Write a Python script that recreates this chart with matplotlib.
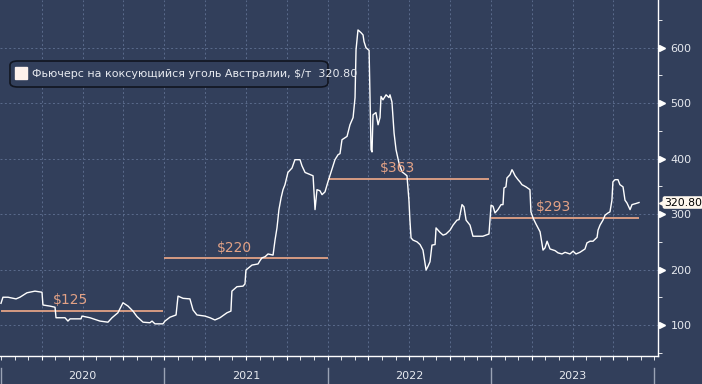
import numpy as np
import matplotlib.pyplot as plt
from matplotlib.patches import FancyBboxPatch
import matplotlib.transforms as mtransforms

plt.rcParams['font.family'] = ['DejaVu Sans']

# даты в долях года и цена, $/т
t = [2020.000, 2020.012, 2020.043, 2020.092, 2020.116, 2020.159, 2020.208, 2020.251, 2020.257, 2020.300,
     2020.331, 2020.337, 2020.392, 2020.410, 2020.423, 2020.490, 2020.496, 2020.545, 2020.606, 2020.655,
     2020.680, 2020.716, 2020.747, 2020.778, 2020.808, 2020.833, 2020.870, 2020.912, 2020.925, 2020.943,
     2020.992, 2021.004, 2021.035, 2021.072, 2021.084, 2021.115, 2021.157, 2021.176, 2021.200, 2021.249,
     2021.280, 2021.310, 2021.341, 2021.384, 2021.408, 2021.414, 2021.445, 2021.482, 2021.494, 2021.500,
     2021.537, 2021.574, 2021.586, 2021.598, 2021.617, 2021.635, 2021.666, 2021.678, 2021.690, 2021.702,
     2021.715, 2021.727, 2021.739, 2021.757, 2021.782, 2021.800, 2021.831, 2021.843, 2021.862, 2021.911,
     2021.923, 2021.935, 2021.953, 2021.966, 2021.984, 2022.002, 2022.015, 2022.045, 2022.064, 2022.076,
     2022.088, 2022.119, 2022.137, 2022.156, 2022.168, 2022.174, 2022.186, 2022.205, 2022.217, 2022.223,
     2022.235, 2022.254, 2022.260, 2022.266, 2022.272, 2022.278, 2022.296, 2022.309, 2022.321, 2022.327,
     2022.339, 2022.358, 2022.376, 2022.382, 2022.394, 2022.407, 2022.419, 2022.431, 2022.437, 2022.456,
     2022.474, 2022.486, 2022.498, 2022.504, 2022.511, 2022.523, 2022.547, 2022.566, 2022.584, 2022.603,
     2022.615, 2022.627, 2022.639, 2022.658, 2022.664, 2022.688, 2022.707, 2022.725, 2022.750, 2022.768,
     2022.792, 2022.805, 2022.823, 2022.835, 2022.848, 2022.872, 2022.890, 2022.915, 2022.951, 2022.988,
     2023.001, 2023.013, 2023.025, 2023.043, 2023.062, 2023.074, 2023.080, 2023.092, 2023.098, 2023.117,
     2023.129, 2023.135, 2023.148, 2023.166, 2023.178, 2023.190, 2023.215, 2023.239, 2023.245, 2023.258,
     2023.276, 2023.301, 2023.319, 2023.331, 2023.344, 2023.362, 2023.393, 2023.411, 2023.435, 2023.454,
     2023.484, 2023.503, 2023.521, 2023.545, 2023.576, 2023.588, 2023.607, 2023.625, 2023.650, 2023.656,
     2023.668, 2023.686, 2023.699, 2023.717, 2023.729, 2023.741, 2023.747, 2023.760, 2023.778, 2023.790,
     2023.809, 2023.821, 2023.833, 2023.852, 2023.864, 2023.888, 2023.907]
price = [139, 150, 150, 147, 150, 158, 161, 159, 136, 134,
         132, 113, 113, 107, 111, 111, 116, 113, 107, 105,
         113, 122, 140, 134, 125, 115, 105, 104, 107, 102,
         102, 107, 114, 118, 152, 148, 147, 127, 118, 116,
         113, 109, 113, 122, 125, 161, 169, 170, 174, 199,
         208, 210, 216, 221, 223, 228, 226, 253, 275, 308,
         329, 344, 353, 375, 383, 398, 398, 387, 375, 369,
         308, 344, 342, 335, 340, 358, 370, 398, 407, 409,
         434, 440, 461, 474, 510, 596, 632, 627, 623, 611,
         600, 595, 506, 416, 412, 479, 483, 461, 474, 512,
         506, 515, 510, 515, 502, 446, 416, 400, 392, 376,
         372, 369, 325, 289, 257, 253, 250, 245, 235, 199,
         206, 214, 244, 245, 275, 267, 262, 264, 271, 280,
         289, 290, 317, 313, 289, 280, 260, 260, 260, 264,
         316, 314, 302, 308, 317, 317, 347, 349, 365, 371,
         380, 377, 369, 362, 358, 353, 349, 344, 304, 293,
         282, 268, 235, 239, 251, 237, 234, 230, 228, 231,
         228, 233, 228, 231, 237, 248, 251, 251, 258, 271,
         280, 289, 298, 302, 304, 325, 358, 362, 362, 353,
         349, 325, 320, 308, 317, 319, 320.8]

years = [2020, 2021, 2022, 2023]
avg_price = [125, 220, 363, 293]
avg_end = [2020.99, 2022.0, 2022.99, 2023.907]
last_value = 320.80

bg = '#323f5b'
grid_c = '#5b6b8c'
avg_c = '#e3a286'
txt_c = '#e6e9ef'

fig = plt.figure(figsize=(7.02, 3.84), dpi=100, facecolor=bg)
ax = fig.add_axes([0, 0.0729, 0.9373, 0.9271], facecolor=bg)

ax.plot(t, price, color='white', lw=1.0, zorder=3)

for y0, a, e in zip(years, avg_price, avg_end):
    ax.hlines(a, y0, e, color=avg_c, lw=1.3, zorder=2)
    ax.text((y0 + e) / 2 - 0.07, a + 7, f'${a}', color=avg_c, fontsize=10,
            ha='center', va='bottom', zorder=4)

ax.set_xlim(2019.994, 2024.023)
ax.set_ylim(44, 686)

# сетка
quarters = np.arange(2020.25, 2024.0, 0.25)
ax.set_xticks(quarters, minor=False)
ax.set_xticks(np.arange(2020, 2024.01, 1 / 12), minor=True)
ax.xaxis.grid(True, which='major', color=grid_c, ls=(0, (2, 2.5)), lw=0.7)
ax.set_yticks(np.arange(100, 601, 100))
ax.set_yticks(np.arange(50, 651, 50), minor=True)
ax.yaxis.grid(True, which='major', color=grid_c, ls=(0, (2, 2.5)), lw=0.7)
ax.set_axisbelow(True)

for s in ['top', 'left']:
    ax.spines[s].set_visible(False)
for s in ['bottom', 'right']:
    ax.spines[s].set_color('white')
    ax.spines[s].set_linewidth(1.0)

ax.tick_params(axis='x', which='both', direction='out', length=3, color='white',
               labelbottom=False)
ax.yaxis.tick_right()
ax.tick_params(axis='y', which='minor', direction='out', length=3, color='white')
ax.tick_params(axis='y', which='major', length=0, pad=9, labelsize=8,
               labelcolor=txt_c)

# треугольники у делений
tr = mtransforms.blended_transform_factory(ax.transAxes, ax.transData)
ax.plot([1.006] * 6, np.arange(100, 601, 100), marker='>', ms=5, color='white',
        ls='none', transform=tr, clip_on=False)

# годы внизу
for y0 in years:
    ax.text(y0 + 0.5, -0.055, str(y0), transform=ax.get_xaxis_transform(),
            ha='center', va='center', fontsize=8, color=txt_c)
for y0 in years + [2024]:
    ax.plot([y0, y0], [-0.033, -0.08], transform=ax.get_xaxis_transform(),
            color='#9aa3b5', lw=1, clip_on=False)

# метка последнего значения
ax.text(1.009, last_value, f'{last_value:.2f}', transform=tr, fontsize=7.8,
        color='black', ha='left', va='center', zorder=6,
        bbox=dict(boxstyle='round,pad=0.12,rounding_size=0.2', fc='#fff8ee', ec='none'))
ax.plot([1.007], [last_value], marker='<', ms=6, color='#fff8ee', transform=tr,
        clip_on=False, zorder=5)

# легенда
leg = FancyBboxPatch((10 / 658, 1 - 87 / 356), 318 / 658, 26 / 356,
                     boxstyle='round,pad=0,rounding_size=0.012', transform=ax.transAxes,
                     fc=bg, ec='#111520', lw=1.2, zorder=5)
ax.add_patch(leg)
ax.plot([21.5 / 658], [1 - 73 / 356], marker='s', ms=8, color='#fdf1ec',
        transform=ax.transAxes, zorder=6)
ax.text(32 / 658, 1 - 73.5 / 356,
        f'Фьючерс на коксующийся уголь Австралии, $/т  {last_value:.2f}',
        transform=ax.transAxes, fontsize=8, color=txt_c, va='center', ha='left', zorder=6)

fig.savefig('out.png', dpi=100, facecolor=bg)
